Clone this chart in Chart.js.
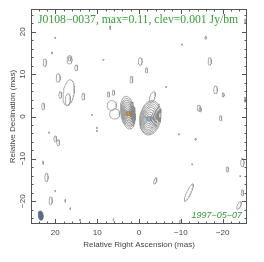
<!DOCTYPE html>
<html>
<head>
<meta charset="utf-8">
<script src="https://cdn.jsdelivr.net/npm/chart.js@4.4.0/dist/chart.umd.min.js"></script>
<style>
  html, body { margin: 0; padding: 0; background: #fff; }
</style>
</head>
<body>
<canvas id="mapChart" width="264" height="262"></canvas>
<script>
// axis ticks (mas)
const xTickLabels = [20, 10, 0, -10, -20];
const yTickLabels = [20, 10, 0, -10, -20];

// component A (east, orange marker) - nested contours, inner to outer
const compACx = [2.5, 2.5, 2.52, 2.54, 2.56, 2.58, 2.6, 2.62, 2.65];
const compACy = [0.7, 0.7, 0.72, 0.75, 0.78, 0.8, 0.83, 0.86, 0.9];
const compARx = [0.35, 0.55, 0.75, 0.95, 1.1, 1.25, 1.4, 1.55, 1.7];
const compARy = [0.6, 1.0, 1.4, 1.8, 2.2, 2.6, 3.0, 3.4, 3.9];
const compAAngle = -8;

// component B (west, blue marker)
const compBCx = [-2.4, -2.42, -2.45, -2.5, -2.54, -2.58, -2.62, -2.66, -2.7];
const compBCy = [-0.55, -0.55, -0.52, -0.5, -0.46, -0.42, -0.38, -0.34, -0.3];
const compBRx = [0.4, 0.7, 1.0, 1.3, 1.55, 1.8, 2.05, 2.3, 2.5];
const compBRy = [0.6, 1.1, 1.6, 2.1, 2.6, 3.0, 3.4, 3.8, 4.1];
const compBAngle = 10;

// weak contours scattered in the field
const fieldX   = [6.9, 20, 20.8, 22.5, 16.6, 16.6, 15.0, 19.3, 16.8, 17.0, 18.8, 13.3, 22.9, 11.3, 10.1, 8.5,
                  -0.3, -1.8, 1.8, -6.5, -10.3, -15.9, -16.9, -18.3, -20.1, -14.3, -14.6, -19.5, -25.3, 10.1, 21.5,
                  20, 19.3, -9.5, -13.5, 22.9, -12.7, -21.1, -24.7, 22.1, -3.9, -24.2, -11.9, 21.1, 20, 17.6,
                  16.4, 14.1, 6.1, -9.9, -24.7, -23.9, -25.4, 6.5, 5.8, 7.3, 6.1, -3.2];
const fieldY   = [21, 18.6, 15, 12.7, 13.4, 13.6, 11.5, 9.1, 5.6, 4.0, 5.1, 4.7, 2.4, 0.4, -2.7, 13.4,
                  13.0, 10.9, 8.7, 7, 17, 18.6, 13, 6.3, 5.1, 2.0, 1.6, -0.4, 4, -3.4, -3.8,
                  -5.3, -6.2, -4.2, -5.4, -10.9, -11.3, -12.5, -10.9, -14.4, -15.2, -14.1, -18.0, -19.9, -17.6, -19.9,
                  -21.8, -24.4, -24.4, -24.9, -18, -21, 22.5, 2.6, 0.6, 5.2, 5.6, 4.6];
const fieldRx  = [0.15, 0.15, 0.2, 0.4, 0.6, 0.3, 0.35, 0.5, 1.3, 0.6, 0.35, 0.35, 0.35, 0.15, 0.15, 0.15,
                  0.45, 0.3, 0.35, 0.15, 0.15, 0.15, 0.4, 0.45, 0.25, 0.4, 0.3, 0.3, 0.2, 0.15, 0.15,
                  0.35, 0.35, 0.15, 0.15, 0.15, 0.15, 0.3, 0.4, 0.4, 0.3, 0.15, 0.5, 0.4, 0.15, 0.1,
                  0.1, 0.15, 0.1, 0.3, 0.3, 0.4, 0.2, 1.1, 1.2, 0.3, 0.3, 0.6];
const fieldRy  = [0.4, 0.15, 0.2, 0.9, 1.0, 0.5, 0.7, 1.0, 3.1, 1.4, 0.8, 0.8, 0.8, 0.15, 0.15, 0.15,
                  0.9, 0.6, 0.8, 0.15, 0.15, 0.4, 0.9, 0.9, 0.5, 0.7, 0.5, 0.6, 0.6, 0.15, 0.15,
                  0.7, 0.7, 0.15, 0.3, 0.4, 0.15, 0.6, 1.0, 1.0, 0.8, 0.15, 2.3, 0.9, 0.15, 0.4,
                  0.3, 0.2, 0.3, 0.3, 0.7, 1.0, 0.5, 1.2, 1.2, 0.6, 0.6, 1.3];
const fieldAng = [0, 0, 0, 0, 0, 0, 0, 0, 8, 5, 0, 0, 0, 0, 0, 0,
                  0, 0, 0, 0, 0, 0, 0, 0, 0, 0, 0, 0, 0, 0, 0,
                  0, 0, 0, 0, 0, 0, 0, 0, 0, 20, 0, 25, 0, 0, 0,
                  0, 0, 0, 0, 0, 25, 0, 0, 0, 0, 0, 20];

// restoring beam (bottom-left)
const beamX = [23.5];
const beamY = [-23.4];
const beamRx = [0.6];
const beamRy = [1.1];
const beamAng = [-8];

// component markers
const markerX = [2.5, -2.4];
const markerY = [0.7, -0.55];
const markerColors = ['#f39200', '#7cbcea'];

function ellipse(cx, cy, rx, ry, angDeg) {
    const pts = [];
    const a = angDeg * Math.PI / 180;
    const n = 48;
    for (let i = 0; i <= n; i++) {
        const t = 2 * Math.PI * i / n;
        const ex = rx * Math.cos(t), ey = ry * Math.sin(t);
        pts.push({ x: cx + ex * Math.cos(a) - ey * Math.sin(a), y: cy + ex * Math.sin(a) + ey * Math.cos(a) });
    }
    return pts;
}

function contourSet(data, color, width) {
    return {
        type: 'scatter', data: data, showLine: true, pointRadius: 0,
        borderColor: color, borderWidth: width, fill: false, tension: 0
    };
}

const datasets = [];

for (let i = 0; i < fieldX.length; i++) {
    datasets.push(contourSet(ellipse(fieldX[i], fieldY[i], fieldRx[i], fieldRy[i], fieldAng[i]), '#9a9a9a', 0.8));
}
for (let i = 0; i < compARx.length; i++) {
    datasets.push(contourSet(ellipse(compACx[i], compACy[i], compARx[i], compARy[i], compAAngle), '#888888', 0.8));
}
for (let i = 0; i < compBRx.length; i++) {
    datasets.push(contourSet(ellipse(compBCx[i], compBCy[i], compBRx[i], compBRy[i], compBAngle), '#888888', 0.8));
}

// beam
datasets.push({
    type: 'scatter', data: ellipse(beamX[0], beamY[0], beamRx[0], beamRy[0], beamAng[0]),
    showLine: true, pointRadius: 0, borderColor: '#5a6a82', borderWidth: 0.5,
    backgroundColor: '#5a6a82', fill: 'shape'
});

// markers
datasets.push({
    type: 'scatter',
    data: markerX.map((x, i) => ({ x: x, y: markerY[i] })),
    pointRadius: 2.8, pointBorderWidth: 0,
    pointBackgroundColor: markerColors, showLine: false
});

const frame = {
    id: 'frame',
    afterDraw(chart) {
        const ctx = chart.ctx;
        const a = chart.chartArea;
        const xs = chart.scales.x, ys = chart.scales.y;
        ctx.save();
        ctx.strokeStyle = '#555';
        ctx.lineWidth = 1;
        ctx.strokeRect(a.left + 0.5, a.top + 0.5, a.right - a.left - 1, a.bottom - a.top - 1);

        // inward ticks on all sides
        ctx.beginPath();
        for (let v = -24; v <= 24; v += 2) {
            const len = (v % 10 === 0) ? 5 : 2.5;
            const px = Math.round(xs.getPixelForValue(v)) + 0.5;
            ctx.moveTo(px, a.bottom); ctx.lineTo(px, a.bottom - len);
            ctx.moveTo(px, a.top); ctx.lineTo(px, a.top + len);
            const py = Math.round(ys.getPixelForValue(v)) + 0.5;
            ctx.moveTo(a.left, py); ctx.lineTo(a.left + len, py);
            ctx.moveTo(a.right, py); ctx.lineTo(a.right - len, py);
        }
        ctx.stroke();

        ctx.fillStyle = '#444';
        ctx.font = '8px "Liberation Sans", Arial, sans-serif';
        ctx.textAlign = 'center';
        ctx.textBaseline = 'middle';
        xTickLabels.forEach(v => {
            ctx.fillText(String(v).replace('-', '\u2212'), xs.getPixelForValue(v), a.bottom + 9);
        });
        yTickLabels.forEach(v => {
            ctx.save();
            ctx.translate(a.left - 8, ys.getPixelForValue(v));
            ctx.rotate(-Math.PI / 2);
            ctx.fillText(String(v).replace('-', '\u2212'), 0, 0);
            ctx.restore();
        });

        // axis titles
        ctx.fillText('Relative Right Ascension (mas)', (a.left + a.right) / 2, a.bottom + 21);
        ctx.save();
        ctx.translate(a.left - 18, (a.top + a.bottom) / 2);
        ctx.rotate(-Math.PI / 2);
        ctx.fillText('Relative Declination (mas)', 0, 0);
        ctx.restore();

        // labels inside the map
        ctx.fillStyle = '#3a9a3a';
        ctx.textAlign = 'left';
        ctx.font = '11.7px "Liberation Serif", "Times New Roman", serif';
        ctx.fillText('J0108\u22120037, max=0.11, clev=0.001 Jy/bm', a.left + 7, a.top + 10.5);
        ctx.textAlign = 'right';
        ctx.font = 'italic 9px "Liberation Sans", Arial, sans-serif';
        ctx.fillText('1997\u221205\u221207', a.right - 5, a.bottom - 9);
        ctx.restore();
    }
};

new Chart(document.getElementById('mapChart').getContext('2d'), {
    type: 'scatter',
    data: { datasets: datasets },
    options: {
        responsive: false,
        animation: false,
        events: [],
        layout: { padding: { left: 31, right: 17, top: 9, bottom: 38 } },
        plugins: { legend: { display: false }, tooltip: { enabled: false } },
        scales: {
            x: { type: 'linear', min: -25.8, max: 25.8, reverse: true, display: false },
            y: { type: 'linear', min: -25.4, max: 25.4, display: false }
        }
    },
    plugins: [frame]
});
</script>
</body>
</html>
